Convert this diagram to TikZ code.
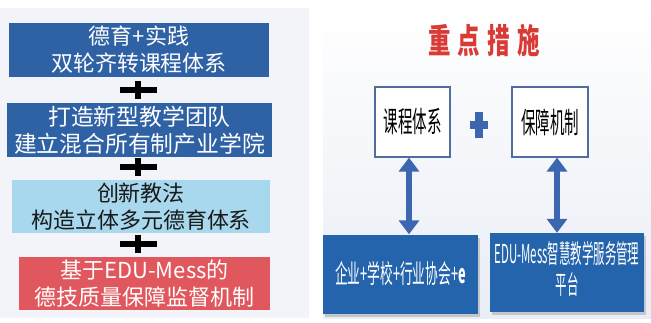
\documentclass[tikz,border=0pt]{standalone}
\usepackage{fontspec}
\usepackage{graphicx}
\usetikzlibrary{arrows.meta,shadows}
\newfontfamily\cjk{Noto Sans CJK SC}
\definecolor{boxblue}{HTML}{2F61A5}
\definecolor{boxlight}{HTML}{A8D8EE}
\definecolor{boxred}{HTML}{E0585D}
\definecolor{deepblue}{HTML}{2464AD}
\definecolor{arrowblue}{HTML}{3D66B0}
\definecolor{frameblue}{HTML}{4F6E9E}
\definecolor{titlered}{HTML}{D93A35}
\definecolor{panelgray}{HTML}{F3F4FA}
\definecolor{panelbottom}{HTML}{E9EDF5}
\tikzset{
  lbox/.style={minimum height=54pt, inner sep=0pt, align=center,
    font=\cjk\fontsize{22}{27}\selectfont},
  kbox/.style={draw=frameblue, line width=1.2pt, fill=white, minimum width=75pt,
    minimum height=70pt, inner sep=0pt, font=\cjk\fontsize{29}{32}\selectfont},
  bbox/.style={fill=deepblue, minimum width=155pt, minimum height=79pt, inner sep=0pt,
    text=white, font=\cjk\fontsize{26}{31}\selectfont,
    drop shadow={opacity=0.35, shadow xshift=1.5pt, shadow yshift=-3pt}},
  crossbar/.style={line width=6pt, black},
  dblarrow/.style={line width=6pt, arrowblue, {Triangle[width=20pt,length=14pt]}-{Triangle[width=20pt,length=14pt]}}
}
\begin{document}
\begin{tikzpicture}[x=1pt,y=-1pt]
\useasboundingbox (0,0) rectangle (651,322);
% panels
\fill[panelgray] (0,8) rectangle (309,318);
\shade[top color=white, bottom color=panelbottom] (323,5) rectangle (651,318);
% left column
\node[lbox, fill=boxblue, text=white, minimum width=260pt] (a1) at (139,50)
  {德育+实践\\双轮齐转课程体系};
\node[lbox, fill=boxblue, text=white, minimum width=265pt,
  font=\cjk\fontsize{22.8}{27}\selectfont] (a2) at (139.5,130)
  {打造新型教学团队\\建立混合所有制产业学院};
\node[lbox, fill=boxlight, text=black!90, minimum width=258pt, minimum height=53pt] (a3) at (141,206.5)
  {创新教法\\构造立体多元德育体系};
\node[lbox, fill=boxred, text=white, minimum width=251pt, minimum height=53pt] (a4) at (144.5,283.5)
  {基于EDU-Mess的\\德技质量保障监督机制};
% plus signs between boxes
\foreach \yc in {90,167,244}{
  \draw[crossbar] (120,\yc) -- (157,\yc);
  \draw[line width=5.5pt] (138,\yc-9) -- (138,\yc+9);
}
% right side
\node[text=titlered, font=\cjk\bfseries\fontsize{34}{38}\selectfont] (title) at (484,40)
  {\scalebox{0.66}[1]{重\hspace{11pt}点\hspace{11pt}措\hspace{11pt}施}};
\node[kbox] (kc) at (412.5,122) {\scalebox{0.5}[1]{课程体系}};
\node[kbox, minimum width=76pt] (bz) at (550,122) {\scalebox{0.5}[1]{保障机制}};
\fill[arrowblue] (475,112) rectangle (483,138);
\fill[arrowblue] (470,121) rectangle (488,129);
\node[bbox] (b1) at (400.5,274)
  {\scalebox{0.49}[1]{企业+学校+行业协会+{\bfseries e}}};
\node[bbox, minimum width=154pt] (b2) at (567,272.5)
  {\scalebox{0.44}[1]{\begin{tabular}{@{}c@{}}EDU-Mess智慧教学服务管理\\平台\end{tabular}}};
\draw[dblarrow] ([xshift=-3.5pt]kc.south) -- ([xshift=-3.5pt]kc.south |- b1.north);
\draw[dblarrow] ([xshift=7pt]bz.south) -- ([xshift=7pt]bz.south |- b2.north);
\end{tikzpicture}
\end{document}
